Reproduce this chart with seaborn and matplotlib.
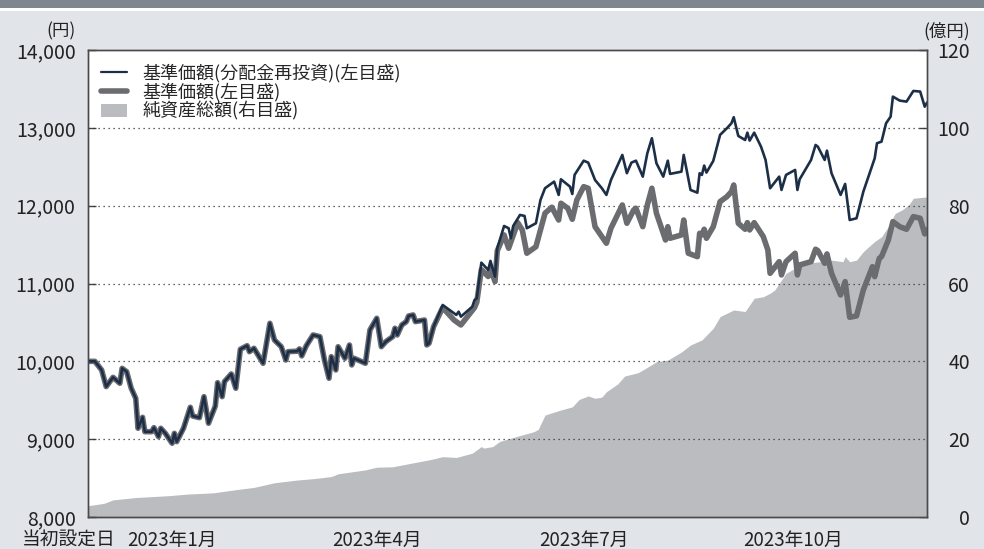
import pandas as pd
import matplotlib
matplotlib.use("Agg")
import matplotlib.pyplot as plt
from matplotlib.lines import Line2D
from matplotlib.patches import Patch, Rectangle
import seaborn as sns

# 基準価額（分配金再投資）
nav_dates = [
    "2022-11-25", "2022-11-28", "2022-12-01", "2022-12-03", "2022-12-06", "2022-12-09",
    "2022-12-10", "2022-12-12", "2022-12-14", "2022-12-16", "2022-12-17", "2022-12-19",
    "2022-12-20", "2022-12-23", "2022-12-24", "2022-12-26", "2022-12-27", "2022-12-29",
    "2023-01-01", "2023-01-02", "2023-01-03", "2023-01-06", "2023-01-09", "2023-01-10",
    "2023-01-13", "2023-01-15", "2023-01-17", "2023-01-20", "2023-01-21", "2023-01-23",
    "2023-01-24", "2023-01-27", "2023-01-29", "2023-01-31", "2023-02-03", "2023-02-04",
    "2023-02-06", "2023-02-10", "2023-02-13", "2023-02-15", "2023-02-18", "2023-02-20",
    "2023-02-21", "2023-02-25", "2023-02-26", "2023-02-27", "2023-03-01", "2023-03-04",
    "2023-03-07", "2023-03-09", "2023-03-11", "2023-03-12", "2023-03-14", "2023-03-15",
    "2023-03-18", "2023-03-20", "2023-03-21", "2023-03-22", "2023-03-27", "2023-03-29",
    "2023-04-01", "2023-04-03", "2023-04-05", "2023-04-08", "2023-04-09", "2023-04-10",
    "2023-04-12", "2023-04-14", "2023-04-15", "2023-04-17", "2023-04-18", "2023-04-22",
    "2023-04-23", "2023-04-24", "2023-04-26", "2023-04-30", "2023-05-05", "2023-05-06",
    "2023-05-07", "2023-05-08", "2023-05-13", "2023-05-14", "2023-05-15", "2023-05-17",
    "2023-05-20", "2023-05-21", "2023-05-23", "2023-05-24", "2023-05-27", "2023-05-29",
    "2023-05-30", "2023-05-31", "2023-06-03", "2023-06-05", "2023-06-06", "2023-06-10",
    "2023-06-12", "2023-06-14", "2023-06-18", "2023-06-20", "2023-06-21", "2023-06-25",
    "2023-06-26", "2023-06-27", "2023-07-01", "2023-07-03", "2023-07-06", "2023-07-09",
    "2023-07-11", "2023-07-13", "2023-07-18", "2023-07-20", "2023-07-22", "2023-07-24",
    "2023-07-27", "2023-07-29", "2023-07-31", "2023-08-02", "2023-08-05", "2023-08-07",
    "2023-08-08", "2023-08-13", "2023-08-14", "2023-08-17", "2023-08-20", "2023-08-21",
    "2023-08-22", "2023-08-23", "2023-08-24", "2023-08-27", "2023-08-30", "2023-09-02",
    "2023-09-04", "2023-09-05", "2023-09-07", "2023-09-10", "2023-09-11", "2023-09-12",
    "2023-09-14", "2023-09-17", "2023-09-19", "2023-09-21", "2023-09-25", "2023-09-26",
    "2023-09-28", "2023-10-02", "2023-10-03", "2023-10-04", "2023-10-09", "2023-10-11",
    "2023-10-12", "2023-10-15", "2023-10-16", "2023-10-18", "2023-10-22", "2023-10-24",
    "2023-10-26", "2023-10-29", "2023-11-01", "2023-11-06", "2023-11-07", "2023-11-09",
    "2023-11-11", "2023-11-13", "2023-11-14", "2023-11-17", "2023-11-20", "2023-11-23",
    "2023-11-26", "2023-11-28", "2023-11-29",
]
nav_reinv = [
    10000, 10000, 9889, 9675, 9795, 9718,
    9910, 9867, 9654, 9525, 9140, 9281,
    9096, 9096, 9148, 9032, 9140, 9075,
    8947, 9075, 8968, 9140, 9410, 9298,
    9276, 9546, 9204, 9426, 9726, 9546,
    9739, 9838, 9654, 10155, 10201, 10124,
    10168, 9975, 10489, 10274, 10188, 10017,
    10124, 10130, 10160, 10070, 10200, 10339,
    10317, 10017, 9782, 10060, 9889, 10188,
    10039, 10210, 9953, 10039, 9975, 10403,
    10553, 10188, 10253, 10317, 10425, 10339,
    10467, 10510, 10583, 10596, 10510, 10531,
    10210, 10232, 10446, 10724, 10617, 10596,
    10638, 10574, 10702, 10788, 10810, 11268,
    11174, 11290, 11088, 11453, 11739, 11710,
    11581, 11739, 11881, 11868, 11710, 11774,
    12073, 12224, 12309, 12138, 12339, 12244,
    12150, 12395, 12578, 12553, 12330, 12224,
    12138, 12330, 12652, 12417, 12553, 12578,
    12373, 12674, 12866, 12545, 12373, 12578,
    12408, 12437, 12652, 12202, 12167, 12417,
    12395, 12515, 12425, 12575, 12910, 12995,
    13059, 13136, 12896, 12844, 12938, 12836,
    12938, 12758, 12587, 12224, 12373, 12202,
    12395, 12459, 12202, 12339, 12587, 12780,
    12758, 12587, 12707, 12417, 12138, 12279,
    11816, 11838, 12180, 12609, 12802, 12823,
    13059, 13144, 13401, 13350, 13337, 13474,
    13466, 13272, 13324,
]

# 基準価額（最初の分配まで分配金再投資と同じ）
base_dates_after = [
    "2023-04-30", "2023-05-05", "2023-05-08", "2023-05-14", "2023-05-15", "2023-05-17",
    "2023-05-20", "2023-05-21", "2023-05-23", "2023-05-24", "2023-05-27", "2023-05-29",
    "2023-06-02", "2023-06-04", "2023-06-06", "2023-06-10", "2023-06-14", "2023-06-17",
    "2023-06-20", "2023-06-21", "2023-06-24", "2023-06-26", "2023-06-28", "2023-07-01",
    "2023-07-03", "2023-07-06", "2023-07-11", "2023-07-13", "2023-07-18", "2023-07-20",
    "2023-07-23", "2023-07-24", "2023-07-27", "2023-07-29", "2023-07-31", "2023-08-02",
    "2023-08-06", "2023-08-07", "2023-08-08", "2023-08-13", "2023-08-14", "2023-08-16",
    "2023-08-20", "2023-08-21", "2023-08-22", "2023-08-23", "2023-08-24", "2023-08-27",
    "2023-08-30", "2023-09-02", "2023-09-04", "2023-09-05", "2023-09-07", "2023-09-10",
    "2023-09-11", "2023-09-12", "2023-09-14", "2023-09-18", "2023-09-20", "2023-09-21",
    "2023-09-25", "2023-09-26", "2023-09-28", "2023-10-02", "2023-10-03", "2023-10-04",
    "2023-10-09", "2023-10-11", "2023-10-12", "2023-10-15", "2023-10-16", "2023-10-18",
    "2023-10-22", "2023-10-24", "2023-10-26", "2023-10-29", "2023-11-01", "2023-11-05",
    "2023-11-06", "2023-11-08", "2023-11-09", "2023-11-12", "2023-11-14", "2023-11-17",
    "2023-11-20", "2023-11-23", "2023-11-26", "2023-11-28", "2023-11-29",
]
base_after = [
    10690, 10530, 10467, 10690, 10760, 11180,
    11090, 11200, 11024, 11420, 11624, 11453,
    11782, 11688, 11389, 11473, 11903, 11980,
    11816, 12031, 11967, 11825, 12073, 12244,
    12224, 11730, 11517, 11710, 12009, 11774,
    11945, 11967, 11730, 12009, 12224, 11903,
    11559, 11730, 11581, 11624, 11816, 11389,
    11345, 11645, 11624, 11697, 11581, 11730,
    12052, 12116, 12180, 12266, 11774, 11697,
    11782, 11688, 11782, 11602, 11431, 11131,
    11281, 11110, 11281, 11389, 11110, 11238,
    11281, 11440, 11422, 11260, 11380, 11131,
    10853, 11024, 10566, 10583, 10917, 11216,
    11088, 11324, 11345, 11559, 11795, 11730,
    11697, 11859, 11838, 11637, 11688,
]

# 純資産総額（億円）
aum_dates = [
    "2022-11-25", "2022-12-02", "2022-12-06", "2022-12-16", "2022-12-31", "2023-01-08",
    "2023-01-19", "2023-01-30", "2023-02-06", "2023-02-15", "2023-02-25", "2023-03-05",
    "2023-03-12", "2023-03-15", "2023-03-27", "2023-04-01", "2023-04-08", "2023-04-16",
    "2023-04-25", "2023-04-30", "2023-05-06", "2023-05-13", "2023-05-17", "2023-05-18",
    "2023-05-22", "2023-05-25", "2023-06-01", "2023-06-09", "2023-06-11", "2023-06-14",
    "2023-06-21", "2023-06-26", "2023-06-29", "2023-07-03", "2023-07-06", "2023-07-09",
    "2023-07-11", "2023-07-16", "2023-07-19", "2023-07-25", "2023-07-30", "2023-08-02",
    "2023-08-07", "2023-08-13", "2023-08-17", "2023-08-22", "2023-08-27", "2023-08-30",
    "2023-09-05", "2023-09-10", "2023-09-14", "2023-09-18", "2023-09-21", "2023-09-23",
    "2023-09-28", "2023-10-03", "2023-10-07", "2023-10-13", "2023-10-18", "2023-10-23",
    "2023-10-24", "2023-10-26", "2023-10-29", "2023-11-01", "2023-11-06", "2023-11-09",
    "2023-11-12", "2023-11-15", "2023-11-18", "2023-11-21", "2023-11-23", "2023-11-28",
    "2023-11-29",
]
aum = [
    2.9, 3.5, 4.4, 5.0, 5.5, 5.9,
    6.2, 7.1, 7.6, 8.8, 9.5, 9.9,
    10.4, 11.1, 12.1, 12.8, 12.9, 13.8,
    14.8, 15.5, 15.3, 16.4, 18.1, 17.7,
    18.1, 19.4, 20.6, 21.9, 22.5, 26.2,
    27.5, 28.3, 30.2, 31.1, 30.5, 30.8,
    32.2, 34.2, 36.2, 37.1, 38.8, 39.9,
    40.3, 42.4, 44.2, 45.5, 48.5, 51.5,
    53.2, 52.8, 56.2, 56.6, 57.5, 58.3,
    62.6, 64.3, 65.2, 65.6, 66.0, 65.6,
    66.9, 65.6, 66.0, 68.2, 70.8, 72.0,
    74.6, 78.0, 78.9, 80.2, 81.9, 82.2,
    82.2,
]

x_ticks = ["2023-01-01", "2023-04-01", "2023-07-01", "2023-10-01"]
x_ticklabels = ["2023年1月", "2023年4月", "2023年7月", "2023年10月"]
start_date = "2022-11-25"
end_date = "2023-11-29"

legend_labels = ["基準価額(分配金再投資)(左目盛)", "基準価額(左目盛)", "純資産総額(右目盛)"]

# 色
navy = "#1d2f47"
gray_line = "#6b6c70"
gray_area = "#bbbcc0"
bg = "#e1e4e9"
txt = "#222222"

sns.set_style("white")
plt.rcParams["font.family"] = ["Noto Sans CJK JP", "DejaVu Sans"]

cut = nav_dates.index("2023-04-26") + 1
df_nav = pd.DataFrame({"date": pd.to_datetime(nav_dates), "value": nav_reinv})
df_base = pd.DataFrame({"date": pd.to_datetime(nav_dates[:cut] + base_dates_after),
                        "value": nav_reinv[:cut] + base_after})
df_aum = pd.DataFrame({"date": pd.to_datetime(aum_dates), "value": aum})

fig = plt.figure(figsize=(9.84, 5.49), dpi=100, facecolor=bg)
# 上部の帯
fig.patches.append(Rectangle((0, 1 - 8 / 549), 1, 8 / 549, transform=fig.transFigure,
                             facecolor="#7e868e", edgecolor="none", zorder=0))
fig.patches.append(Rectangle((0, 1 - 11 / 549), 1, 3 / 549, transform=fig.transFigure,
                             facecolor="white", edgecolor="none", zorder=0))

# ax2: 右目盛（純資産総額）と日付軸、ax: 左目盛（基準価額）
ax2 = fig.add_axes([88 / 984, 32 / 549, 839 / 984, 467 / 549])
ax = ax2.twinx()
ax.set_zorder(ax2.get_zorder() + 1)
ax.patch.set_visible(False)
ax2.set_facecolor("white")

ax2.fill_between(df_aum["date"], 0, df_aum["value"], color=gray_area, linewidth=0)
ax2.set_ylim(0, 120)
ax2.set_yticks(range(0, 121, 20))

sns.lineplot(data=df_base, x="date", y="value", ax=ax, color=gray_line, linewidth=4.0,
             solid_joinstyle="round")
sns.lineplot(data=df_nav, x="date", y="value", ax=ax, color=navy, linewidth=1.9,
             solid_joinstyle="round")

ax.set_ylim(8000, 14000)
ax2.set_xlim(pd.Timestamp(start_date), pd.Timestamp(end_date))
for a in (ax, ax2):
    a.set_xlabel("")
    a.set_ylabel("")

ax.yaxis.tick_left()
ax2.yaxis.tick_right()
ax.set_yticks(range(8000, 14001, 1000))
ax.set_yticklabels([f"{v:,}" for v in range(8000, 14001, 1000)])

for g in range(9000, 14000, 1000):
    ax.axhline(g, color="#333333", linewidth=0.9, linestyle=(0, (1, 3)), zorder=1)

ax2.set_xticks(pd.to_datetime(x_ticks))
ax2.set_xticklabels(x_ticklabels)

ax.tick_params(axis="y", direction="in", length=6, width=1, color="#444444",
               labelsize=14, pad=9, labelcolor=txt)
ax2.tick_params(axis="x", direction="in", length=6, width=1, color="#444444",
                labelsize=13.5, pad=9, labelcolor=txt)
ax2.tick_params(axis="y", direction="in", length=6, width=1, color="#444444",
                labelsize=14, pad=31, labelcolor=txt)
for lab in ax2.get_yticklabels():
    lab.set_horizontalalignment("right")

for a in (ax, ax2):
    for s in a.spines.values():
        s.set_color("#4a4a4a")
        s.set_linewidth(1.0)

ax2.annotate("当初設定日", xy=(0, 0), xycoords="axes fraction", xytext=(-14, -9),
             textcoords="offset points", ha="center", va="top", fontsize=13.5, color=txt)
ax.annotate("(円)", xy=(0, 1), xycoords="axes fraction", xytext=(-9, 7),
            textcoords="offset points", ha="right", va="bottom", fontsize=12.5, color=txt)
ax.annotate("(億円)", xy=(1, 1), xycoords="axes fraction", xytext=(31, 7),
            textcoords="offset points", ha="right", va="bottom", fontsize=12.5, color=txt)

handles = [
    Line2D([], [], color=navy, linewidth=1.6),
    Line2D([], [], color=gray_line, linewidth=4.0),
    Patch(facecolor=gray_area, edgecolor="none"),
]
ax.legend(handles, legend_labels, loc="upper left", bbox_to_anchor=(0.0, 0.997),
          frameon=False, fontsize=13, handlelength=1.45, handleheight=0.8,
          handletextpad=0.85, labelspacing=0.0, borderaxespad=0.3)

plt.savefig("out.png", dpi=100, facecolor=bg)
